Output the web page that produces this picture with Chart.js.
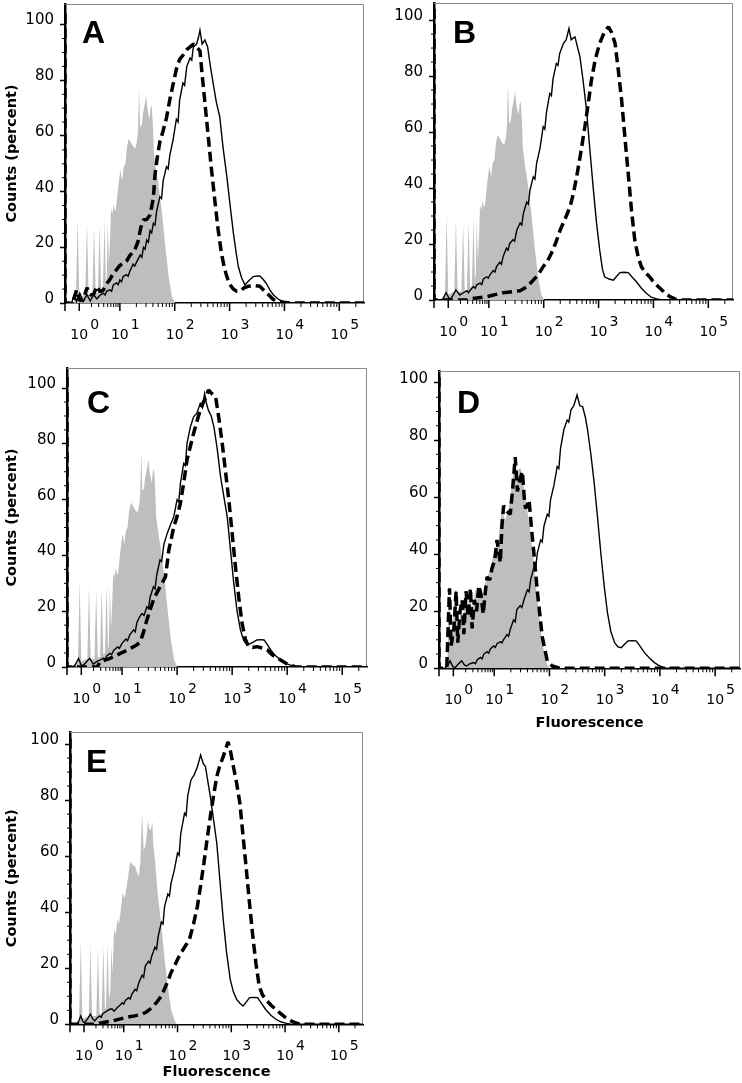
<!DOCTYPE html>
<html>
<head>
<meta charset="utf-8">
<title>Flow cytometry histograms A-E</title>
<script src="https://cdn.jsdelivr.net/npm/chart.js@4.4.1/dist/chart.umd.min.js"></script>
<style>
  html, body { margin: 0; padding: 0; background: #fff; overflow: hidden; }
  body { width: 742px; height: 1083px; position: relative; }
  canvas { position: absolute; }
</style>
</head>
<body>
<script>
// ===== Data =====
// x = position on the display axis in decades (10^1 sits at 1), y = counts (percent)
const decadeTicks = [0.26, 1, 2, 3, 4, 5];
const decadeLabels = ['0', '1', '2', '3', '4', '5'];
const countTicks = [0, 20, 40, 60, 80, 100];

// grey filled control histograms
const ctrlABC = [[0.15,0],[0.20,2],[0.23,30.5],[0.26,2],[0.37,3],[0.40,29],[0.43,3],[0.50,3],[0.53,27.4],[0.56,3.5],[0.60,3.5],[0.63,28],[0.66,4.5],[0.69,5],[0.72,29.5],[0.745,7],[0.76,9],[0.78,28.8],[0.80,14],[0.82,22],[0.84,34],[0.86,32],[0.89,35.5],[0.91,33],[0.93,34],[0.96,40],[0.99,45],[1.01,47.7],[1.04,44],[1.07,48.9],[1.10,50],[1.13,56],[1.16,59],[1.19,58],[1.22,57],[1.25,56],[1.28,55.5],[1.31,58],[1.33,62],[1.35,77.5],[1.37,63],[1.40,64],[1.42,68],[1.44,70],[1.46,72],[1.48,74.5],[1.50,70],[1.52,68],[1.54,66],[1.56,70],[1.58,71],[1.60,65],[1.62,54],[1.66,48],[1.71,41.6],[1.77,32],[1.83,20],[1.89,9.4],[1.95,2.2],[2.01,0]];
const ctrlD = [[0.15,0],[0.18,27],[0.21,10],[0.25,12],[0.28,26],[0.31,28],[0.33,12],[0.37,14],[0.40,25],[0.44,15],[0.48,28],[0.52,20],[0.56,29],[0.59,21],[0.62,22],[0.66,28],[0.69,24],[0.72,27],[0.76,26],[0.80,25],[0.84,30],[0.90,33],[0.96,38],[1.02,42],[1.08,45],[1.11,52],[1.14,55],[1.20,52],[1.26,56],[1.32,64],[1.36,70],[1.38,74],[1.41,68],[1.45,70],[1.48,70],[1.51,68],[1.55,62],[1.60,55],[1.64,50],[1.70,40],[1.76,28],[1.82,17],[1.88,8],[1.94,2],[2.0,0]];
const ctrlE = [[0.15,0],[0.17,2],[0.20,30.2],[0.23,2],[0.35,3],[0.38,28.5],[0.41,3],[0.49,3],[0.52,26.7],[0.55,3.5],[0.59,4],[0.62,27.9],[0.65,5],[0.67,6],[0.70,29],[0.725,9],[0.75,12],[0.77,28],[0.79,18],[0.82,33.8],[0.85,32],[0.88,37.4],[0.91,36],[0.94,40],[0.98,46.9],[1.02,45],[1.06,50],[1.12,58],[1.16,57],[1.21,56.3],[1.25,54],[1.28,52.8],[1.31,58],[1.34,75.9],[1.37,62],[1.40,63.5],[1.43,68],[1.45,73],[1.47,70],[1.49,69.4],[1.51,70],[1.53,72.4],[1.55,64],[1.58,58.7],[1.63,46.9],[1.70,35],[1.76,23.1],[1.82,13.6],[1.88,5.3],[1.96,0.6],[2.0,0]];

// solid line samples
const solidA = [[0,0],[0.12,0],[0.17,3],[0.21,0.5],[0.27,3.5],[0.33,0.5],[0.40,3],[0.46,0.7],[0.52,3],[0.58,1.5],[0.64,2.8],[0.70,3.5],[0.73,2.9],[0.76,4.2],[0.82,4.7],[0.85,4.2],[0.88,6.5],[0.94,7.2],[0.97,6.6],[1.00,8.3],[1.03,7.6],[1.06,9.5],[1.12,10.2],[1.15,9.6],[1.18,11.3],[1.24,14],[1.27,13.2],[1.30,14.5],[1.37,17.2],[1.40,16.4],[1.43,20],[1.46,19.3],[1.49,22.6],[1.52,21.8],[1.55,26],[1.58,25.2],[1.61,28.6],[1.64,28],[1.67,33],[1.73,38.2],[1.76,37.5],[1.79,44],[1.85,49],[1.88,48.2],[1.91,53],[1.97,58.6],[2.03,66],[2.06,65],[2.09,73],[2.15,79],[2.18,78.2],[2.22,85],[2.28,88],[2.31,87.2],[2.34,92],[2.40,93],[2.44,96],[2.46,98],[2.50,93],[2.55,94.5],[2.60,92],[2.65,85],[2.70,79],[2.76,72],[2.82,67],[2.88,56],[2.95,45.4],[3.01,35],[3.07,25],[3.12,18],[3.16,13],[3.22,9],[3.28,6.5],[3.35,8],[3.43,9.5],[3.50,9.7],[3.55,9.7],[3.61,8.5],[3.67,7],[3.74,4.5],[3.80,2.9],[3.90,1.2],[3.98,0.5],[4.1,0],[5.45,0]];
const solidB = [[0,0],[0.12,0],[0.16,0.3],[0.22,2.6],[0.29,0],[0.34,1.5],[0.40,3.6],[0.47,1.8],[0.53,2.5],[0.60,3.3],[0.63,2.6],[0.66,3.5],[0.72,4.8],[0.75,4.2],[0.78,5.4],[0.84,6],[0.87,5.5],[0.90,7.5],[0.96,8.3],[0.99,7.8],[1.02,9],[1.08,10.5],[1.11,10],[1.14,11.9],[1.20,13.5],[1.23,12.8],[1.26,15.5],[1.32,18.5],[1.35,17.8],[1.38,20.2],[1.44,21.5],[1.47,21],[1.51,25],[1.57,27.5],[1.60,26.8],[1.63,31],[1.69,35],[1.72,34.2],[1.75,39.3],[1.81,44],[1.84,43.2],[1.87,48.8],[1.93,54],[1.99,61.9],[2.02,61],[2.05,67],[2.11,73.8],[2.14,73],[2.17,79],[2.23,84.5],[2.26,83.8],[2.29,88],[2.36,91.7],[2.41,93],[2.46,97],[2.50,93],[2.57,94],[2.62,90],[2.66,86.9],[2.72,78],[2.78,67.9],[2.84,54],[2.90,40.5],[2.96,28],[3.02,17.9],[3.07,11],[3.11,8.3],[3.19,7.5],[3.27,7.1],[3.33,8.5],[3.39,9.8],[3.46,9.9],[3.54,9.8],[3.61,8.2],[3.69,6.5],[3.78,4.2],[3.87,2.4],[3.96,1],[4.06,0.4],[4.15,0],[5.45,0]];
const solidC = [[0,0],[0.08,0],[0.14,0.5],[0.21,3.1],[0.26,0.5],[0.30,0.7],[0.36,2],[0.41,3.1],[0.48,1],[0.54,2],[0.60,2.5],[0.66,3.2],[0.69,2.7],[0.72,4],[0.78,4.9],[0.81,4.4],[0.85,6],[0.92,7.2],[0.95,6.7],[1.00,8.5],[1.07,10],[1.10,9.4],[1.14,11.5],[1.21,13.3],[1.24,12.6],[1.27,16],[1.32,18],[1.36,19.2],[1.40,18.5],[1.45,21.6],[1.48,21],[1.51,25],[1.57,28.8],[1.60,28],[1.63,33],[1.69,38.4],[1.72,37.8],[1.76,44],[1.82,47.9],[1.88,51],[1.94,53.9],[2.00,60],[2.03,59.2],[2.06,65.8],[2.12,73],[2.15,72.2],[2.18,80.2],[2.24,86],[2.30,89.7],[2.36,91],[2.42,94.5],[2.46,93],[2.50,98],[2.54,94],[2.57,92],[2.62,90],[2.67,86],[2.73,78],[2.79,68.2],[2.85,61],[2.91,53.9],[2.97,42],[3.03,30],[3.09,20],[3.15,13.3],[3.21,9.5],[3.27,7.9],[3.33,8.4],[3.39,9],[3.45,9.7],[3.52,9.8],[3.58,9.7],[3.64,8],[3.70,6.1],[3.79,4],[3.88,2.5],[3.97,1.3],[4.06,0.7],[4.15,0],[5.45,0]];
const solidD = [[0,0],[0.11,0],[0.16,1],[0.20,2.6],[0.25,0.6],[0.29,0.2],[0.35,1.5],[0.41,2.6],[0.46,1.2],[0.50,0.8],[0.56,1.6],[0.63,2],[0.66,1.6],[0.69,2.9],[0.75,3.8],[0.78,3.3],[0.81,4.9],[0.87,5.8],[0.90,5.3],[0.93,6.8],[0.99,7.8],[1.02,7.3],[1.05,8.6],[1.11,9.3],[1.14,8.9],[1.17,10.1],[1.23,11.8],[1.26,11.2],[1.29,13.6],[1.35,17],[1.38,16.3],[1.41,20.6],[1.47,22],[1.50,21.3],[1.54,24.1],[1.60,27.5],[1.63,26.8],[1.66,31.1],[1.72,35.5],[1.75,34.8],[1.78,40.4],[1.84,45],[1.87,44.3],[1.90,49.8],[1.96,54],[1.99,53.3],[2.02,59.1],[2.08,64],[2.14,70.7],[2.17,70],[2.20,77],[2.26,83.6],[2.32,87],[2.35,86.3],[2.39,90.6],[2.44,92],[2.50,95.8],[2.55,92],[2.60,91.7],[2.65,88],[2.69,83.6],[2.75,75],[2.81,64.9],[2.87,53],[2.93,40.4],[2.99,29],[3.05,19.5],[3.11,13],[3.18,9],[3.24,7.5],[3.30,7.2],[3.36,8.4],[3.42,9.6],[3.50,9.7],[3.57,9.6],[3.64,7.8],[3.72,5.5],[3.81,3.6],[3.90,2],[3.97,1.1],[4.03,0.6],[4.12,0],[5.45,0]];
const solidE = [[0,0],[0.12,0],[0.16,1],[0.20,3],[0.24,1],[0.27,0.6],[0.33,2],[0.38,3.6],[0.42,2],[0.46,1.2],[0.50,2.2],[0.55,3],[0.58,2.5],[0.61,3.8],[0.67,4.5],[0.73,5.3],[0.78,5.5],[0.82,4.7],[0.88,6],[0.94,7],[0.97,7.7],[1.00,7.2],[1.03,8.5],[1.09,9.5],[1.12,9],[1.15,10.7],[1.21,12.5],[1.24,12],[1.28,14.8],[1.34,17.5],[1.37,16.8],[1.40,20.8],[1.46,22.5],[1.49,21.8],[1.52,24.3],[1.58,27.5],[1.61,26.8],[1.64,31.4],[1.70,36.5],[1.73,35.8],[1.76,42.1],[1.82,46.5],[1.85,45.8],[1.88,50.4],[1.94,55],[2.00,61.1],[2.03,60.3],[2.06,68],[2.13,75.3],[2.16,74.5],[2.19,81.5],[2.25,87.2],[2.31,89],[2.37,91.9],[2.43,96.1],[2.48,93],[2.52,91.9],[2.57,86],[2.61,81.3],[2.67,73],[2.73,64.7],[2.79,51],[2.85,37.4],[2.91,26],[2.98,16],[3.04,11.5],[3.10,8.9],[3.16,7.5],[3.22,6.5],[3.28,8],[3.34,9.5],[3.42,9.6],[3.49,9.5],[3.56,7.5],[3.64,5.3],[3.73,3.3],[3.83,1.8],[3.92,0.9],[4.01,0.4],[4.1,0],[5.45,0]];

// dashed line samples (first two points: events piled at the axis minimum)
const dashA = [[0,104],[0,0],[0.12,0],[0.15,0.7],[0.21,4.7],[0.27,1],[0.33,1],[0.40,5.5],[0.46,3],[0.52,3],[0.58,6],[0.64,4],[0.70,4.7],[0.76,7],[0.82,8.5],[0.88,10.6],[0.94,12],[1.00,13.5],[1.06,14.2],[1.12,15],[1.18,17],[1.27,19],[1.33,22],[1.38,27],[1.43,29.9],[1.49,30],[1.55,31.6],[1.61,37.6],[1.64,46],[1.68,52],[1.73,58],[1.79,62],[1.85,66.5],[1.91,73],[1.97,78.5],[2.03,84],[2.09,87.5],[2.15,89],[2.22,91],[2.28,92],[2.34,93],[2.40,92],[2.46,90.6],[2.50,82],[2.55,72],[2.61,60],[2.67,48],[2.73,37],[2.79,26.5],[2.85,18],[2.91,12.2],[2.99,7],[3.07,5],[3.13,4.2],[3.19,4.3],[3.27,5.5],[3.34,6],[3.45,6.3],[3.55,6],[3.63,4.5],[3.72,2.8],[3.80,1.2],[3.90,0.6],[3.98,0.3],[4.1,0],[5.45,0]];
const dashB = [[0,104],[0,0],[0.6,0],[0.66,0.4],[0.96,1.2],[1.26,2.6],[1.57,3.3],[1.70,4.8],[1.81,7.1],[1.90,9],[1.99,11.9],[2.07,14],[2.14,16.7],[2.22,20.5],[2.30,25],[2.39,29],[2.48,33.3],[2.54,38],[2.60,44],[2.67,52],[2.75,61.9],[2.81,70],[2.87,78.6],[2.94,86],[3.02,91.7],[3.10,95.5],[3.18,97.6],[3.24,95.5],[3.30,91.7],[3.36,82],[3.42,71.4],[3.48,58],[3.54,45.2],[3.60,32],[3.66,21.4],[3.72,15.5],[3.78,11.9],[3.85,9.8],[3.93,8.3],[4.02,6],[4.12,4.2],[4.21,2.5],[4.30,1.2],[4.39,0.4],[4.48,0],[5.45,0]];
const dashC = [[0,104],[0,0],[0.55,0],[0.60,1.9],[0.66,2.2],[0.72,2.7],[0.78,3.1],[0.88,4],[0.97,4.9],[1.09,6],[1.21,7.3],[1.27,8],[1.33,9],[1.39,12.5],[1.45,16.8],[1.51,20.5],[1.57,24],[1.63,26.5],[1.69,28.8],[1.74,30.5],[1.79,32.4],[1.85,42],[1.90,46.5],[1.94,50.3],[2.00,54],[2.06,58.7],[2.12,66],[2.18,74.2],[2.24,79],[2.30,83.8],[2.36,88],[2.42,92.1],[2.48,95],[2.53,97],[2.57,99.3],[2.63,98],[2.70,96.9],[2.76,89],[2.82,80.2],[2.88,70],[2.94,59.9],[3.00,48],[3.06,36],[3.12,25],[3.18,15.7],[3.24,10],[3.30,7.3],[3.37,7],[3.45,7.3],[3.55,6.8],[3.64,6.1],[3.72,4.5],[3.80,3.3],[3.88,2.5],[3.97,1.4],[4.06,0.7],[4.15,0],[5.45,0]];
const dashD = [[0,102],[0,0],[0.14,0],[0.19,28],[0.22,8],[0.27,14],[0.31,27],[0.34,9],[0.38,20],[0.42,24],[0.45,12],[0.49,27],[0.53,18],[0.57,28],[0.60,14],[0.64,24],[0.68,20],[0.72,29],[0.76,26],[0.80,19],[0.84,27],[0.87,32],[0.92,31],[0.96,35],[1.01,38],[1.05,45],[1.11,37],[1.14,50],[1.17,57],[1.23,55],[1.29,54],[1.33,62],[1.38,74],[1.42,62],[1.45,65],[1.51,69],[1.55,58],[1.57,56],[1.63,59],[1.68,48],[1.72,40],[1.78,27],[1.87,11],[1.96,2.6],[2.05,0.8],[2.2,0],[5.45,0]];
const dashE = [[0,102],[0,0],[0.5,0],[0.55,0.4],[0.79,1.2],[1.03,2.4],[1.20,3],[1.34,3.6],[1.43,4.5],[1.52,5.9],[1.61,7.8],[1.70,10.1],[1.79,14],[1.88,18.4],[1.96,21.5],[2.03,24.3],[2.13,27.5],[2.22,30.2],[2.30,36],[2.37,42.1],[2.43,49.5],[2.49,57.5],[2.55,66],[2.61,74.1],[2.67,81.5],[2.73,88.4],[2.79,92.5],[2.85,95.5],[2.90,98.5],[2.94,100.8],[2.99,97],[3.04,91.9],[3.10,86],[3.16,78.9],[3.22,67],[3.28,55.2],[3.34,43],[3.40,31.4],[3.46,21.5],[3.52,13.6],[3.58,10.5],[3.64,8.9],[3.74,6.8],[3.83,5.3],[3.92,3.8],[4.01,2.4],[4.10,1.3],[4.19,0.6],[4.28,0],[5.45,0]];


// ===== Panel layout (page pixels of each plot frame) =====
const PAD_TOP = 20;
const PAD_RIGHT = 4;
const panels = [
  { letter: 'A', ctrl: ctrlABC, solid: solidA, dash: dashA, area: [65, 4, 364, 303],    canvasLeft: 0,   yMax: 107.4, letterAt: [17, 39], yTitle: true,  xTitleGap: 0 },
  { letter: 'B', ctrl: ctrlABC, solid: solidB, dash: dashB, area: [434, 3, 733, 300],   canvasLeft: 372, yMax: 106.1, letterAt: [19, 40], yTitle: false, xTitleGap: 0 },
  { letter: 'C', ctrl: ctrlABC, solid: solidC, dash: dashC, area: [67, 368, 367, 667],  canvasLeft: 0,   yMax: 107.2, letterAt: [20, 45], yTitle: true,  xTitleGap: 0 },
  { letter: 'D', ctrl: ctrlD,   solid: solidD, dash: dashD, area: [439, 371, 740, 669], canvasLeft: 372, yMax: 104.2, letterAt: [18, 42], yTitle: false, xTitleGap: 55 },
  { letter: 'E', ctrl: ctrlE,   solid: solidE, dash: dashE, area: [70, 732, 363, 1025], canvasLeft: 0,   yMax: 104.3, letterAt: [16, 40], yTitle: true,  xTitleGap: 48 }
];

const TITLE_FONT = { family: 'DejaVu Sans', size: 14.5, weight: 'bold' };


// ===== Plugin: frame, log ticks, 10^n labels, panel letter =====
const flowAxes = {
  id: 'flowAxes',
  beforeDatasetsDraw(chart) {
    const { ctx, chartArea: a } = chart;
    ctx.save();
    ctx.strokeStyle = '#8a8a8a';
    ctx.lineWidth = 1;
    ctx.beginPath();
    ctx.moveTo(a.left, a.top + 0.5);
    ctx.lineTo(a.right - 0.5, a.top + 0.5);
    ctx.lineTo(a.right - 0.5, a.bottom);
    ctx.stroke();
    ctx.restore();
  },
  afterDraw(chart, args, opts) {
    const { ctx, chartArea: a, scales: { x, y } } = chart;
    ctx.save();
    ctx.strokeStyle = '#000';
    ctx.fillStyle = '#000';

    // major x ticks
    ctx.lineWidth = 1.5;
    ctx.beginPath();
    [x.min, ...decadeTicks].forEach(v => {
      const px = x.getPixelForValue(v);
      ctx.moveTo(px, a.bottom);
      ctx.lineTo(px, a.bottom + 8);
    });
    ctx.stroke();

    // minor x ticks
    ctx.lineWidth = 1;
    ctx.beginPath();
    for (let n = 0; n < decadeTicks.length; n++) {
      const start = decadeTicks[n];
      const span = n === 0 ? 1 - decadeTicks[0] : 1;
      for (let k = 2; k <= 9; k++) {
        const v = start + span * Math.log10(k);
        if (v >= x.max) break;
        const px = x.getPixelForValue(v);
        ctx.moveTo(px, a.bottom);
        ctx.lineTo(px, a.bottom + 4);
      }
    }
    ctx.stroke();

    // minor y ticks
    ctx.beginPath();
    for (let v = 5; v <= 100; v += 5) {
      if (countTicks.includes(v)) continue;
      const py = y.getPixelForValue(v);
      ctx.moveTo(a.left, py);
      ctx.lineTo(a.left - 3, py);
    }
    ctx.stroke();

    // 10^n labels
    ctx.font = '14px "DejaVu Sans"';
    ctx.textBaseline = 'alphabetic';
    const w10 = ctx.measureText('10').width;
    decadeTicks.forEach((v, i) => {
      const px = x.getPixelForValue(v);
      ctx.textAlign = 'center';
      ctx.fillText('10', px, a.bottom + 36);
      ctx.textAlign = 'left';
      ctx.fillText(decadeLabels[i], px + w10 / 2 + 2, a.bottom + 26);
    });

    // panel letter
    ctx.font = 'bold 32px "Liberation Sans"';
    ctx.textAlign = 'left';
    ctx.fillText(opts.letter, a.left + opts.dx, a.top + opts.dy);
    ctx.restore();
  }
};


// ===== Build charts =====
panels.forEach(p => {
  const [left, top, right, bottom] = p.area;
  const yw = left - p.canvasLeft;
  const xh = p.xTitleGap ? p.xTitleGap + TITLE_FONT.size * 1.2 / 2 + 4 : 45;

  const canvas = document.createElement('canvas');
  canvas.width = right + PAD_RIGHT - p.canvasLeft;
  canvas.height = PAD_TOP + (bottom - top) + xh;
  canvas.style.left = p.canvasLeft + 'px';
  canvas.style.top = (top - PAD_TOP) + 'px';
  document.body.appendChild(canvas);

  new Chart(canvas, {
    type: 'line',
    data: {
      datasets: [
        {
          label: 'dashed',
          data: p.dash,
          borderColor: '#000',
          borderWidth: 3.5,
          borderDash: [10, 5],
          borderJoinStyle: 'bevel',
          pointRadius: 0,
          tension: 0,
          fill: false
        },
        {
          label: 'solid',
          data: p.solid,
          borderColor: '#000',
          borderWidth: 1.4,
          pointRadius: 0,
          tension: 0,
          fill: false
        },
        {
          label: 'control',
          data: p.ctrl,
          borderWidth: 0,
          borderColor: 'rgba(0,0,0,0)',
          backgroundColor: '#bebebe',
          pointRadius: 0,
          tension: 0,
          fill: 'origin'
        }
      ]
    },
    options: {
      responsive: false,
      animation: false,
      events: [],
      devicePixelRatio: 1,
      layout: { padding: { top: PAD_TOP, right: PAD_RIGHT, left: 0, bottom: 0 } },
      plugins: {
        legend: { display: false },
        tooltip: { enabled: false },
        flowAxes: { letter: p.letter, dx: p.letterAt[0], dy: p.letterAt[1] }
      },
      scales: {
        x: {
          type: 'linear',
          min: 0,
          max: 5.45,
          grid: { display: true, drawOnChartArea: false, drawTicks: false },
          border: { display: true, color: '#000', width: 1.5 },
          ticks: { display: false },
          title: {
            display: !!p.xTitleGap,
            text: 'Fluorescence',
            color: '#000',
            font: TITLE_FONT,
            padding: { top: 0, bottom: 4 }
          },
          afterFit: s => { s.height = xh; }
        },
        y: {
          min: 0,
          max: p.yMax,
          afterBuildTicks: s => { s.ticks = countTicks.map(v => ({ value: v })); },
          grid: { drawOnChartArea: false, tickLength: 5, tickColor: '#000', tickWidth: 1.5 },
          border: { display: true, color: '#000', width: 2.5 },
          ticks: {
            color: '#000',
            font: { family: 'DejaVu Sans', size: 15 },
            padding: 6,
            labelOffset: -4
          },
          title: {
            display: p.yTitle,
            text: 'Counts (percent)',
            color: '#000',
            font: TITLE_FONT
          },
          afterFit: s => { s.width = yw; }
        }
      }
    },
    plugins: [flowAxes]
  });
});
</script>
</body>
</html>
